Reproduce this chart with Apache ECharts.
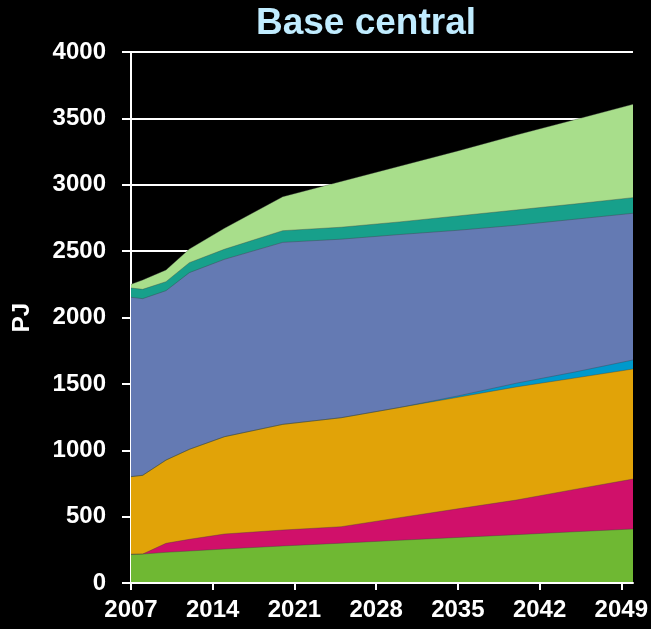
<!DOCTYPE html>
<html>
<head>
<meta charset="utf-8">
<script src="https://cdn.jsdelivr.net/npm/echarts@6/dist/echarts.min.js"></script>
<style>
  html, body { margin: 0; padding: 0; background: #000; }
  #chart { width: 651px; height: 629px; }
</style>
</head>
<body>
<div id="chart"></div>
<script>
// Model years and the energy (PJ) of each band, bottom band first
const years = [2007, 2008, 2010, 2012, 2015, 2020, 2025, 2030, 2035, 2040, 2045, 2050];
const band1 = [216, 218, 231, 241, 256, 279, 300, 322, 343, 364, 386, 407];
const band2 = [0, 0, 68, 88, 113, 120, 124, 170, 216, 261, 319, 376];
const band3 = [585, 593, 627, 678, 733, 796, 821, 830, 840, 852, 839, 829];
const band4 = [0, 0, 0, 0, 0, 0, 0, 0, 10, 28, 45, 68];
const band5 = [1351, 1331, 1276, 1331, 1336, 1371, 1345, 1303, 1248, 1190, 1151, 1105];
const band6 = [70, 70, 68, 75, 76, 88, 90, 95, 108, 115, 115, 118];
const band7 = [28, 71, 88, 103, 158, 256, 345, 420, 490, 565, 635, 703];

const xTickLabels = [2007, 2014, 2021, 2028, 2035, 2042, 2049];
const yTicks = [0, 500, 1000, 1500, 2000, 2500, 3000, 3500, 4000];

const bands = [band1, band2, band3, band4, band5, band6, band7];
const colors = ['#6fb833', '#d0106a', '#e1a308', '#0099cc', '#647ab3', '#17a08b', '#a8de8b'];

// running totals so each band fills down to the one below it
const cumulative = [];
bands.forEach((b, i) => {
  cumulative.push(b.map((v, j) => v + (i > 0 ? cumulative[i - 1][j] : 0)));
});

// draw the tallest total first so lower bands sit on top of it
const series = [];
for (let i = bands.length - 1; i >= 0; i--) {
  series.push({
    name: 'band' + (i + 1),
    type: 'line',
    data: years.map((y, j) => [y, cumulative[i][j]]),
    showSymbol: false,
    symbol: 'none',
    lineStyle: { width: 0.6, color: 'rgba(60,60,60,0.6)' },
    areaStyle: { color: colors[i], opacity: 1, origin: 'start' },
    itemStyle: { color: colors[i] },
    silent: true,
    animation: false
  });
}

const font = 'Liberation Sans, Arial, sans-serif';

const chart = echarts.init(document.getElementById('chart'), null, { renderer: 'canvas' });
chart.setOption({
  backgroundColor: '#000000',
  animation: false,
  grid: { left: 131, right: 17, top: 52, bottom: 46, containLabel: false },
  graphic: [{
    type: 'text',
    x: 366,
    y: 24,
    style: {
      text: 'Base central',
      fill: '#c0ecff',
      font: 'bold 37px ' + font,
      textAlign: 'center',
      textVerticalAlign: 'middle'
    }
  }],
  xAxis: [{
    type: 'value',
    min: 2007,
    max: 2050,
    interval: 7,
    axisLine: { show: true, onZero: false, lineStyle: { color: '#ffffff', width: 2 } },
    axisTick: {
      show: true, inside: false, length: 7,
      customValues: xTickLabels,
      lineStyle: { color: '#ffffff', width: 2 }
    },
    axisLabel: {
      show: true, margin: 15,
      customValues: xTickLabels,
      color: '#ffffff', fontWeight: 'bold', fontSize: 24, fontFamily: font,
      formatter: v => String(v)
    },
    splitLine: { show: false },
    z: 10
  }],
  yAxis: [{
    type: 'value',
    min: 0,
    max: 4000,
    interval: 500,
    name: 'PJ',
    nameLocation: 'middle',
    nameRotate: 90,
    nameGap: 97,
    nameTextStyle: { color: '#ffffff', fontWeight: 'bold', fontSize: 24, fontFamily: font },
    axisLine: { show: true, lineStyle: { color: '#ffffff', width: 2 } },
    axisTick: { show: true, length: 9, lineStyle: { color: '#ffffff', width: 2 } },
    axisLabel: {
      show: true, margin: 25,
      color: '#ffffff', fontWeight: 'bold', fontSize: 24, fontFamily: font,
      formatter: v => yTicks.includes(v) ? String(v) : ''
    },
    splitLine: { show: true, lineStyle: { color: '#ffffff', width: 2 } }
  }],
  series: series
});
</script>
</body>
</html>
